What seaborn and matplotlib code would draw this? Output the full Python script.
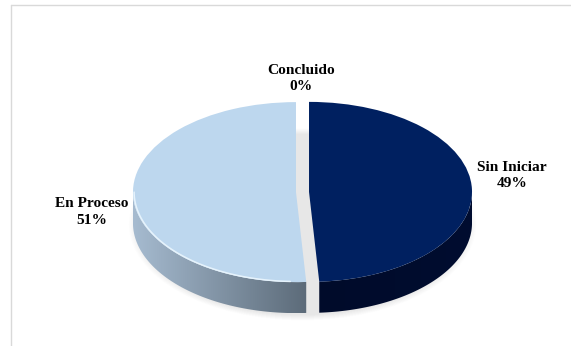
import numpy as np
import matplotlib
matplotlib.use("Agg")
import matplotlib.pyplot as plt
from matplotlib.colors import LinearSegmentedColormap
from matplotlib.patches import Polygon, Ellipse
from matplotlib.lines import Line2D
import seaborn as sns

categories = ["Sin Iniciar", "En Proceso", "Concluido"]
shares = [49, 51, 0]
slice_colors = ["#002060", "#BDD7EE", "#7F7F7F"]
label_xy_px = [(512, 175.5), (92, 212), (301.5, 78.5)]

W, H = 571, 346
CX, CY = 302.5, 192.0     # pie centre, pixels from the top left
RX, RY = 163.0, 90.0      # ellipse radii of the top face
DEPTH = 31.0              # rim height
EXPLODE = 0.04

sns.set_theme(style="white")
plt.rcParams["font.family"] = ["Liberation Serif", "DejaVu Serif"]

fig = plt.figure(figsize=(W / 100, H / 100), dpi=100, facecolor="white")
ax = fig.add_axes([0, 0, 1, 1])

# Pie with radius 1 on a squashed data scale gives the tilted top face.
wedges, _ = ax.pie(
    shares, colors=slice_colors, startangle=90, counterclock=False,
    explode=[EXPLODE, EXPLODE, 0], radius=1, frame=False,
    wedgeprops={"linewidth": 0},
)
ax.set_aspect("auto")
xlim = ((0 - CX) / RX, (W - CX) / RX)
ylim = ((CY - H) / RY, CY / RY)
for w in wedges:
    w.set_zorder(5)

depth = DEPTH / RY

# Soft drop shadow beneath the body; it also shows through the gap between slices.
for k in range(12):
    grow = 1 + 0.0055 * (12 - k)
    ax.add_patch(Ellipse((0.0, -depth * 1.05), 2 * grow, 2 * grow, facecolor="black",
                         alpha=0.008, linewidth=0, zorder=1))


def rim(wedge, c0, c1):
    """Extrude the lower visible arc of a wedge, shaded from one side to the other."""
    cx, cy = wedge.center
    lo, hi = max(wedge.theta1, -180.0), min(wedge.theta2, 0.0)
    angles = np.radians(np.linspace(lo, hi, 160))
    xs = cx + np.cos(angles)
    ys = cy + np.sin(angles)
    outline = np.r_[np.c_[xs, ys], np.c_[xs[::-1], ys[::-1] - depth]]
    patch = Polygon(outline, closed=True, facecolor="none", linewidth=0, zorder=3)
    ax.add_patch(patch)
    cmap = LinearSegmentedColormap.from_list("rim", [c0, c1])
    image = ax.imshow(np.linspace(0, 1, 256)[None, :], cmap=cmap, aspect="auto",
                      extent=(xs.min(), xs.max(), ys.min() - depth, ys.max()),
                      interpolation="bilinear", zorder=3)
    image.set_clip_path(patch)


rim(wedges[0], "#000B2A", "#000D30")
rim(wedges[1], "#A6BBD0", "#5C6B79")

# Pale highlight along the front edge of the light slice.
w = wedges[1]
arc = np.radians(np.linspace(-180, -92, 80))
ax.add_line(Line2D(w.center[0] + 0.993 * np.cos(arc), w.center[1] + 0.993 * np.sin(arc),
                   color="#E6F3FC", linewidth=1.1, zorder=6))

# Chart frame: top and left hairlines only.
ax.add_line(Line2D([(10.5 - CX) / RX, (W - CX) / RX], [(CY - 5.5) / RY] * 2,
                   color="#D9D9D9", linewidth=1, zorder=0))
ax.add_line(Line2D([(10.5 - CX) / RX] * 2, [(CY - 5.5) / RY, (CY - H) / RY],
                   color="#D9D9D9", linewidth=1, zorder=0))

for name, share, (px, py) in zip(categories, shares, label_xy_px):
    ax.text((px - CX) / RX, (CY - py) / RY, f"{name}\n{share}%", ha="center", va="center",
            fontsize=11.1, fontweight="bold", color="black", linespacing=1.32, zorder=7)

ax.set_xlim(xlim)
ax.set_ylim(ylim)
ax.axis("off")

fig.savefig("out.png", dpi=100, facecolor="white")
